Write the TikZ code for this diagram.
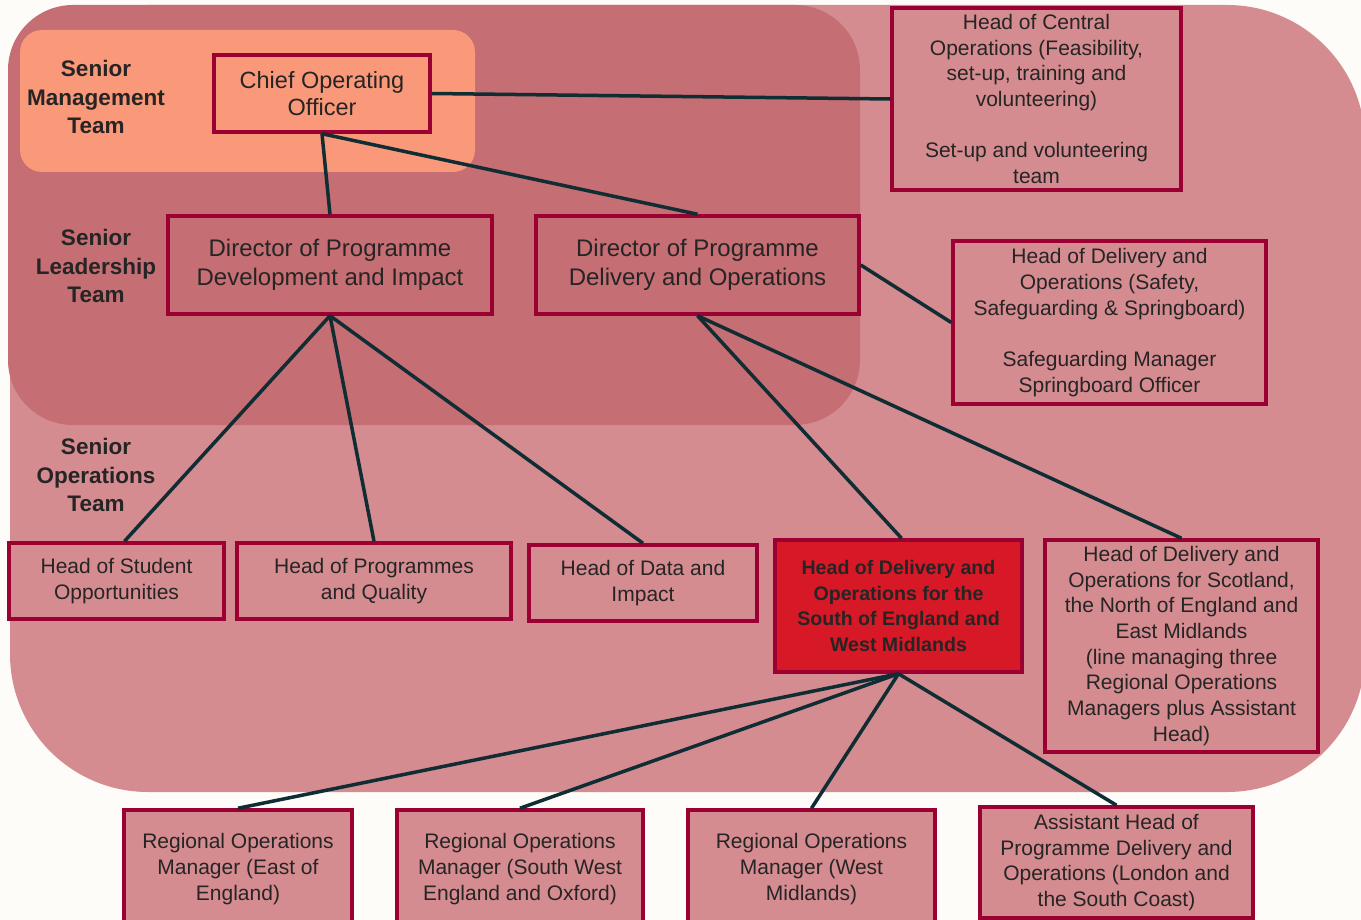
\documentclass[tikz,border=0pt]{standalone}
\usepackage{fontspec}
\setmainfont{Liberation Sans}
\usetikzlibrary{backgrounds}
\definecolor{pagebg}{RGB}{253,252,248}
\definecolor{outerpink}{RGB}{212,140,145}
\definecolor{darkpink}{RGB}{197,110,115}
\definecolor{salmon}{RGB}{250,152,122}
\definecolor{boxborder}{RGB}{155,0,50}
\definecolor{hilite}{RGB}{215,24,38}
\definecolor{conn}{RGB}{15,45,50}
\definecolor{txt}{RGB}{38,36,36}
\tikzset{
  orgbox/.style={draw=boxborder, line width=3.5pt, rectangle, align=center, text=txt, inner sep=0pt,
    font=\fontsize{21}{25.7}\selectfont},
  dirbox/.style={orgbox, font=\fontsize{24}{29}\selectfont},
  coobox/.style={orgbox, fill=salmon, font=\fontsize{23.5}{27}\selectfont},
  lowbox/.style={orgbox, fill=outerpink},
  hibox/.style={orgbox, fill=hilite, font=\fontsize{19.6}{25.7}\selectfont\bfseries},
  teamlabel/.style={align=center, text=txt, font=\fontsize{22.5}{28.8}\selectfont\bfseries, inner sep=0pt},
  link/.style={draw=conn, line width=3.5pt}
}
\begin{document}
\begin{tikzpicture}[x=1pt,y=-1pt]
\useasboundingbox (0,0) rectangle (1361,920);
\fill[pagebg] (0,0) rectangle (1361,920);
% regions
\fill[outerpink, rounded corners=138pt] (10,5) rectangle (1365,792);
\fill[darkpink, rounded corners=65pt] (8,5) rectangle (860,425);
\fill[salmon, rounded corners=22pt] (20,30) rectangle (475,172);

% team labels
\node[teamlabel] (smt) at (96,97) {Senior\\Management\\Team};
\node[teamlabel] (slt) at (96,266) {Senior\\Leadership\\Team};
\node[teamlabel] (sot) at (96,475) {Senior\\Operations\\Team};

% boxes
\node[coobox, minimum width=216pt, minimum height=77pt] (coo) at (322,93.5) {Chief Operating\\Officer};
\node[dirbox, minimum width=324pt, minimum height=98pt] (dirdev) at (330,265) {Director of Programme\\Development and Impact};
\node[dirbox, minimum width=323pt, minimum height=98pt] (dirdel) at (697.5,265) {Director of Programme\\Delivery and Operations};
\node[orgbox, minimum width=289pt, minimum height=182pt] (central) at (1036.5,99) {Head of Central\\Operations (Feasibility,\\set-up, training and\\volunteering)\\[25.7pt]Set-up and volunteering\\team};
\node[orgbox, minimum width=313pt, minimum height=163pt] (safety) at (1109.5,322.5) {Head of Delivery and\\Operations (Safety,\\Safeguarding \& Springboard)\\[25.7pt]Safeguarding Manager\\Springboard Officer};
\node[orgbox, minimum width=215pt, minimum height=76pt] (student) at (116.5,581) {Head of Student\\Opportunities};
\node[orgbox, minimum width=274pt, minimum height=76pt] (progs) at (374,581) {Head of Programmes\\and Quality};
\node[orgbox, minimum width=228pt, minimum height=76pt] (data) at (643,583) {Head of Data and\\Impact};
\node[hibox, minimum width=247pt, minimum height=132pt] (south) at (898.5,606) {Head of Delivery and\\Operations for the\\South of England and\\West Midlands};
\node[orgbox, minimum width=273pt, minimum height=212pt] (scot) at (1181.5,646) {Head of Delivery and\\Operations for Scotland,\\the North of England and\\East Midlands\\(line managing three\\Regional Operations\\Managers plus Assistant\\Head)};
\node[lowbox, minimum width=228pt, minimum height=118pt] (rome) at (238,869) {Regional Operations\\Manager (East of\\England)};
\node[lowbox, minimum width=246pt, minimum height=118pt] (romsw) at (520,869) {Regional Operations\\Manager (South West\\England and Oxford)};
\node[lowbox, minimum width=247pt, minimum height=118pt] (romwm) at (811.5,869) {Regional Operations\\Manager (West\\Midlands)};
\node[lowbox, minimum width=273pt, minimum height=111pt] (asst) at (1116.5,862.5) {Assistant Head of\\Programme Delivery and\\Operations (London and\\the South Coast)};

% connectors
\draw[link] (coo.east) -- (central.west);
\draw[link] (coo.south) -- (dirdev.north);
\draw[link] (coo.south) -- (dirdel.north);
\draw[link] (dirdel.east) -- (safety.west);
\draw[link] (dirdev.south) -- ([xshift=8pt]student.north);
\draw[link] (dirdev.south) -- (progs.north);
\draw[link] (dirdev.south) -- (data.north);
\draw[link] (dirdel.south) -- ([xshift=3pt]south.north);
\draw[link] (dirdel.south) -- (scot.north);
\draw[link] (south.south) -- (rome.north);
\draw[link] (south.south) -- (romsw.north);
\draw[link] (south.south) -- (romwm.north);
\draw[link] (south.south) -- (asst.north);
\end{tikzpicture}
\end{document}
